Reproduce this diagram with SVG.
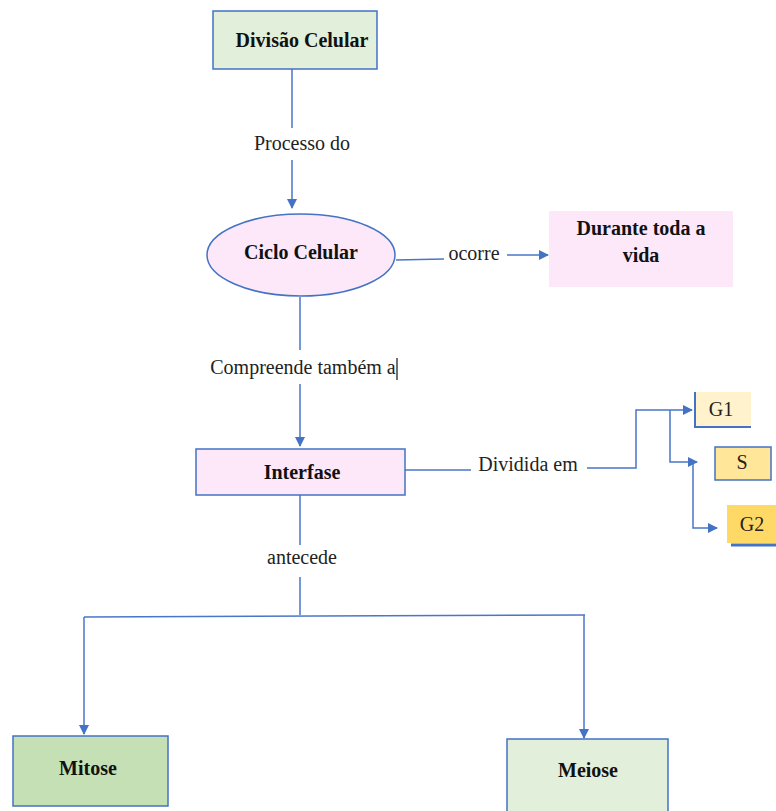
<svg xmlns="http://www.w3.org/2000/svg" width="776" height="811" viewBox="0 0 776 811" font-family="Liberation Serif, DejaVu Serif, serif">
<defs>
<marker id="ah" markerWidth="10" markerHeight="10" refX="9" refY="5" orient="auto" markerUnits="userSpaceOnUse">
<path d="M0,0 L10,5 L0,10 z" fill="#4472c4"/>
</marker>
<style>
.b{font-weight:bold;font-size:20px;fill:#111;text-anchor:middle}
.l{font-size:20px;fill:#222;text-anchor:middle}
.c{fill:none;stroke:#4a76c8;stroke-width:1.5}
.n{stroke:#4472c4;stroke-width:1.5}
</style>
</defs>
<rect width="776" height="811" fill="#fff"/>
<g id="connectors">
<path class="c" d="M292,69 V128" />
<path class="c" d="M292,160 V208" marker-end="url(#ah)"/>
<path class="c" d="M396,260 L444,259"/>
<path class="c" d="M507,255 H548" marker-end="url(#ah)"/>
<path class="c" d="M300,297 V350"/>
<path class="c" d="M300,384 V446" marker-end="url(#ah)"/>
<path class="c" d="M405,470 H471"/>
<path class="c" d="M587,468 H636 V410 H692" marker-end="url(#ah)" stroke-width="2"/>
<path class="c" d="M670,410 V462 H697" marker-end="url(#ah)" stroke-width="2"/>
<path class="c" d="M693,462 V528 H717" marker-end="url(#ah)"/>
<path class="c" d="M300,495 V545"/>
<path class="c" d="M300,577 V615"/>
<path class="c" d="M84,617 L585,615"/>
<path class="c" d="M84,617 V734" marker-end="url(#ah)"/>
<path class="c" d="M584,615 V738" marker-end="url(#ah)"/>
<text class="l" x="302" y="150">Processo do</text>
<text class="l" x="474" y="260">ocorre</text>
<text class="l" x="303" y="374">Compreende também a</text>
<line x1="397" y1="358" x2="397" y2="380" stroke="#111" stroke-width="1.2"/>
<text class="l" x="528" y="471">Dividida em</text>
<text class="l" x="302" y="564">antecede</text>
</g>
<g id="divisao">
<rect class="n" x="213" y="11" width="164" height="58" fill="#e2efda"/>
<text class="b" x="302" y="47">Divisão Celular</text>
</g>
<g id="ciclo">
<ellipse class="n" cx="301" cy="255" rx="94" ry="41" fill="#fce8f8"/>
<text class="b" x="301" y="259">Ciclo Celular</text>
</g>
<g id="durante">
<rect x="549" y="211" width="184" height="76" fill="#fce8f8"/>
<text class="b" x="641" y="235">Durante toda a</text>
<text class="b" x="641" y="262">vida</text>
</g>
<g id="interfase">
<rect class="n" x="196" y="449" width="209" height="46" fill="#fce8f8"/>
<text class="b" x="302" y="479">Interfase</text>
</g>
<g id="g1">
<rect x="694" y="392" width="57" height="35" fill="#fff2cc"/>
<path d="M695,392 V427 H751" fill="none" stroke="#4472c4" stroke-width="2"/>
<text class="l" x="721" y="416">G1</text>
</g>
<g id="s">
<rect class="n" x="715" y="447" width="56" height="33" fill="#ffe699"/>
<text class="l" x="742" y="469">S</text>
</g>
<g id="g2">
<rect x="727" y="505" width="49" height="38" fill="#ffd966"/>
<path d="M731,545 H776" stroke="#4472c4" stroke-width="3"/>
<text class="l" x="752" y="531">G2</text>
</g>
<g id="mitose">
<rect class="n" x="13" y="736" width="155" height="70" fill="#c5e0b4"/>
<text class="b" x="88" y="775">Mitose</text>
</g>
<g id="meiose">
<rect class="n" x="507" y="739" width="161" height="74" fill="#e2efda"/>
<text class="b" x="588" y="777">Meiose</text>
</g>
</svg>
